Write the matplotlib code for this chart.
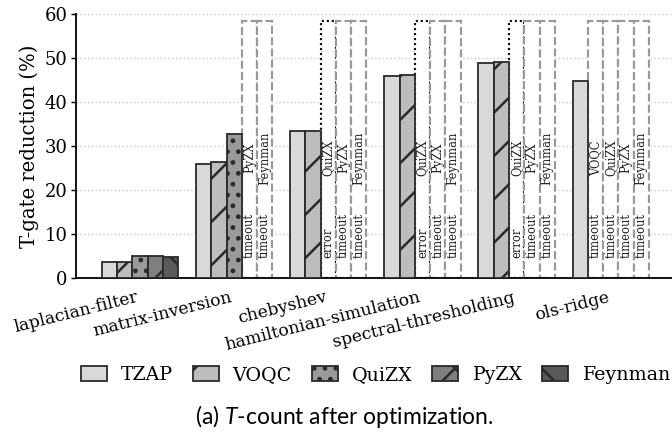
import numpy as np
import matplotlib
matplotlib.use("Agg")
import matplotlib.pyplot as plt
from matplotlib.patches import Patch

# ── Data ───────────────────────────────────────────────────────────────────────
benchmarks = ["laplacian-filter", "matrix-inversion", "chebyshev",
              "hamiltonian-simulation", "spectral-thresholding", "ols-ridge"]
tools = ["TZAP", "VOQC", "QuiZX", "PyZX", "Feynman"]

# T-gate reduction (%) per tool; None = no result
tzap    = [3.7, 26.0, 33.3, 46.0, 48.9, 44.7]
voqc    = [3.7, 26.3, 33.5, 46.2, 49.0, None]
quizx   = [5.0, 32.8, None, None, None, None]
pyzx    = [5.0, None, None, None, None, None]
feynman = [4.7, None, None, None, None, None]

# failure reason per tool for runs without result
fail_voqc    = [None, None, None, None, None, "timeout"]
fail_quizx   = [None, None, "error", "error", "error", "timeout"]
fail_pyzx    = [None, "timeout", "timeout", "timeout", "timeout", "timeout"]
fail_feynman = [None, "timeout", "timeout", "timeout", "timeout", "timeout"]

series = [tzap, voqc, quizx, pyzx, feynman]
failures = [[None] * 6, fail_voqc, fail_quizx, fail_pyzx, fail_feynman]

colors  = ["#d9d9d9", "#bdbdbd", "#9a9a9a", "#7f7f7f", "#5a5a5a"]
hatches = ["", "/", "..", "x", "\\"]

# ── Style ──────────────────────────────────────────────────────────────────────
plt.rcParams["font.family"] = "DejaVu Serif"
plt.rcParams["hatch.linewidth"] = 1.4
plt.rcParams["mathtext.fontset"] = "custom"
plt.rcParams["mathtext.it"] = "Lato:italic"
plt.rcParams["mathtext.rm"] = "Lato"

DPI = 130
fig = plt.figure(figsize=(672 / DPI, 437 / DPI), dpi=DPI)
ax = fig.add_axes([0.113, 0.364, 0.887, 0.604])

x = np.arange(len(benchmarks))
w = 0.162
box_top = 58.3

for i, (vals, fails) in enumerate(zip(series, failures)):
    xs = x + (i - 2) * w
    for xi, v, f in zip(xs, vals, fails):
        if v is not None:
            ax.bar(xi, v, w, color=colors[i], edgecolor="#2a2a2a",
                   linewidth=1.0, hatch=hatches[i], zorder=3)
        elif f is not None:
            if f == "error":
                ax.bar(xi, box_top, w, facecolor="white", edgecolor="#111111",
                       linewidth=1.2, linestyle=(0, (1, 1.3)), zorder=2)
            else:
                ax.bar(xi, box_top, w, facecolor="white", edgecolor="#999999",
                       linewidth=1.2, linestyle=(0, (3.7, 1.5)), zorder=2)
            ax.text(xi, 4.5, f, rotation=90, ha="center", va="bottom",
                    fontsize=6.4, color="#222222", zorder=4)
            ax.text(xi, 27.3, tools[i], rotation=90, ha="center", va="center",
                    fontsize=6.4, color="#222222", zorder=4)

ax.set_xlim(-0.68, 5.65)
ax.set_ylim(0, 60)
ax.set_yticks(range(0, 61, 10))
ax.set_ylabel("T-gate reduction (%)", fontsize=10.9, labelpad=3)
ax.tick_params(axis="y", labelsize=10, length=3, width=0.8, pad=1.5)
ax.set_xticks(x)
ax.set_xticklabels(benchmarks, rotation=14, ha="right", fontsize=9.5)
ax.tick_params(axis="x", length=0, pad=6)
ax.grid(axis="y", color="#cccccc", linestyle=":", linewidth=0.8, zorder=0)
ax.set_axisbelow(True)
for s in ["top", "right"]:
    ax.spines[s].set_visible(False)
ax.spines["left"].set_linewidth(1.0)
ax.spines["bottom"].set_linewidth(1.0)

handles = [Patch(facecolor=c, edgecolor="#2a2a2a", hatch=h, linewidth=1.0)
           for c, h in zip(colors, hatches)]
fig.legend(handles, tools, loc="center", bbox_to_anchor=(0.559, 0.142),
           ncol=5, frameon=False, fontsize=10.5, handlelength=1.37,
           handleheight=0.85, columnspacing=1.05, handletextpad=0.74,
           borderpad=0.2)

fig.text(0.512, 0.046, "(a) $T$-count after optimization.", ha="center",
         va="center", fontsize=12.7, family="Lato")

fig.savefig("out.png", dpi=DPI)
